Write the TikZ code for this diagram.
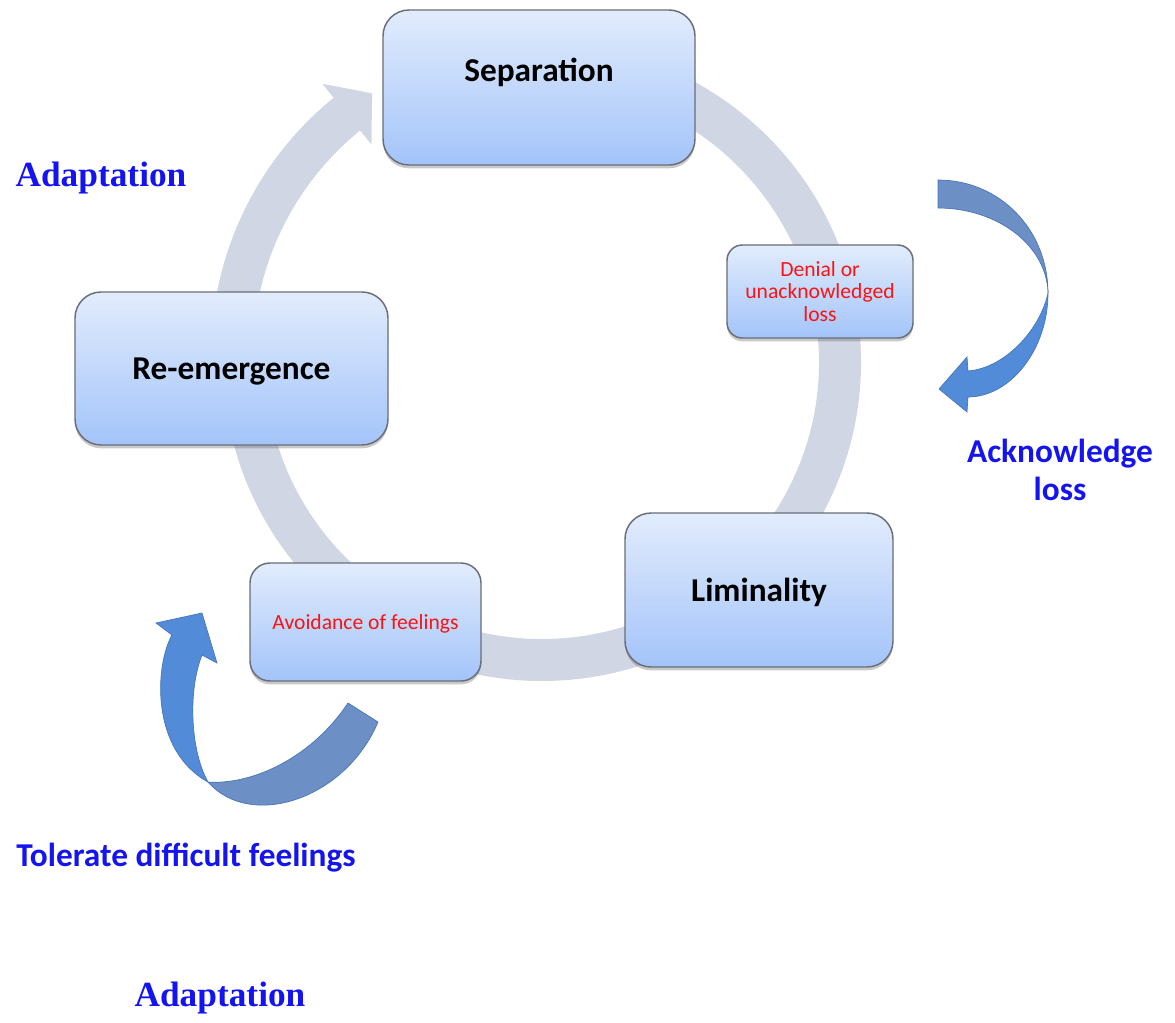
\documentclass[tikz,border=0pt]{standalone}
\usepackage{fontspec}
\setmainfont{Carlito}
\newfontfamily\adaptfont{Liberation Serif}
\usetikzlibrary{calc,shadows}
\definecolor{ringc}{RGB}{208,214,228}
\definecolor{boxtop}{RGB}{226,236,252}
\definecolor{boxbot}{RGB}{163,196,250}
\definecolor{boxline}{RGB}{105,110,120}
\definecolor{arrdark}{RGB}{108,143,198}
\definecolor{arrlight}{RGB}{82,140,216}
\definecolor{arrline}{RGB}{70,115,185}
\definecolor{lblue}{RGB}{20,20,240}
\definecolor{lred}{RGB}{250,20,20}
\begin{document}
\begin{tikzpicture}[x=0.75pt,y=-0.75pt,
  box/.style={draw=boxline, line width=1.1pt, top color=boxtop, bottom color=boxbot,
    drop shadow={shadow xshift=0pt, shadow yshift=-2.5pt, opacity=0.35, fill=black!60},
    inner sep=0pt, align=center},
  bigtxt/.style={font=\fontsize{25}{30}\selectfont\bfseries, text depth=0pt},
  redtxt/.style={font=\fontsize{16.2}{17}\selectfont, text=lred, align=center},
  bluetxt/.style={font=\fontsize{25}{28.5}\selectfont\bfseries, text=lblue, align=center},
  adapt/.style={font=\adaptfont\fontsize{26.5}{30}\selectfont\bfseries, text=lblue},
  ring/.style={draw=ringc, line width=31.5pt},
  darkpart/.style={fill=arrdark, draw=arrline, line width=0.5pt},
  lightpart/.style={fill=arrlight, draw=arrline, line width=0.5pt},
]
\path[use as bounding box, fill=white] (0,0) rectangle (1175,1022);

% ring
\coordinate (C) at (542,362);
\coordinate (C2) at (542,355);
\draw[ring] ($(C)+(-95:298)$) arc[start angle=-95, end angle=170, radius=298];
\draw[ring] ($(C2)+(-172:310)$) arc[start angle=-172, end angle=-128.5, radius=310];
\fill[ringc] ($(C2)+(-129:271)$) -- ($(C2)+(-123:312)$) -- ($(C2)+(-129:349)$) -- cycle;

% boxes
\node[box, minimum width=234pt, minimum height=116.25pt, rounded corners=19.5pt] (sep) at (539,87.5) {};
\node[bigtxt] (septxt) at (539,70) {Separation};
\node[box, minimum width=234.75pt, minimum height=114.75pt, rounded corners=19.5pt, bigtxt] (reem) at (231.5,368.5) {Re-emergence};
\node[box, minimum width=201pt, minimum height=115.5pt, rounded corners=19.5pt, bigtxt] (lim) at (759,590) {Liminality};
\node[box, minimum width=173.25pt, minimum height=88.5pt, rounded corners=15pt, redtxt, text depth=0pt] (avoid) at (365.5,622) {Avoidance of feelings};
\node[box, minimum width=139.5pt, minimum height=69.75pt, rounded corners=11.5pt, redtxt] (denial) at (820,291.5) {Denial or\\unacknowledged\\loss};

% right curved arrow
\path[darkpart] (938,180) .. controls (1000,180) and (1048,230) .. (1048,293)
  .. controls (1047,246) and (998,208) .. (938,208) -- cycle;
\path[lightpart] (1048,293) .. controls (1048,350) and (1010,397) .. (968,397)
  -- (967,412) -- (939,389) -- (967,357) -- (968,371)
  .. controls (1005,368) and (1040,330) .. (1048,293) -- cycle;

% left curved arrow
\path[darkpart] (208,782) .. controls (250,830) and (345,800) .. (378,722) -- (348,703)
  .. controls (310,760) and (250,785) .. (208,782) -- cycle;
\path[lightpart] (208,782) .. controls (150,750) and (155,665) .. (172,635)
  -- (156,623) -- (202,613) -- (217,663) -- (202,655)
  .. controls (188,690) and (190,750) .. (208,782) -- cycle;

% labels
\node[adapt] (adapt1) at (101,178) {Adaptation};
\node[bluetxt] (ack) at (1060,470) {Acknowledge\\loss};
\node[bluetxt] (tol) at (186,858) {Tolerate difficult feelings};
\node[adapt] (adapt2) at (220,998) {Adaptation};
\end{tikzpicture}
\end{document}
